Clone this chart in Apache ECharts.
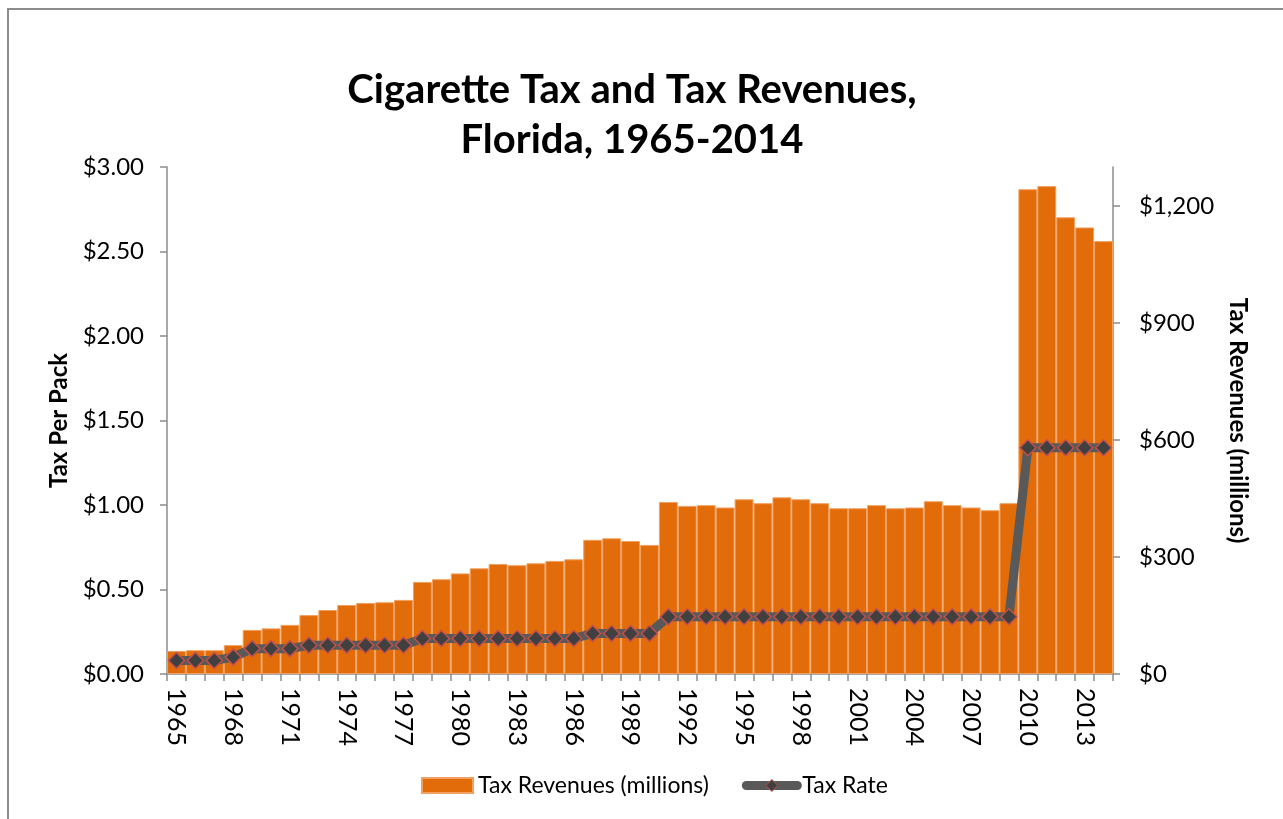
<!DOCTYPE html>
<html>
<head>
<meta charset="utf-8">
<title>Cigarette Tax and Tax Revenues, Florida, 1965-2014</title>
<script src="https://cdn.jsdelivr.net/npm/echarts@6/dist/echarts.min.js"></script>
<style>
  html, body { margin: 0; padding: 0; background: #fff; }
  #chart { width: 1283px; height: 819px; }
</style>
</head>
<body>
<div id="chart"></div>
<script>
// Fiscal years 1965-2014
const years = [];
for (let y = 1965; y <= 2014; y++) years.push(String(y));

// Cigarette tax revenues, millions of dollars
const revenues = [
  59, 61, 61, 74, 113, 117, 126, 151, 164, 177,
  182, 184, 190, 236, 243, 258, 271, 282, 279, 284,
  290, 294, 344, 348, 341, 331, 441, 431, 433, 427,
  448, 438, 453, 448, 438, 425, 425, 433, 425, 427,
  443, 433, 427, 420, 438, 1243, 1251, 1171, 1145, 1110
];

// State cigarette tax per pack, dollars
const taxRate = [
  0.08, 0.08, 0.08, 0.10, 0.15, 0.15, 0.15, 0.17, 0.17, 0.17,
  0.17, 0.17, 0.17, 0.21, 0.21, 0.21, 0.21, 0.21, 0.21, 0.21,
  0.21, 0.21, 0.24, 0.24, 0.24, 0.24, 0.339, 0.339, 0.339, 0.339,
  0.339, 0.339, 0.339, 0.339, 0.339, 0.339, 0.339, 0.339, 0.339, 0.339,
  0.339, 0.339, 0.339, 0.339, 0.339, 1.339, 1.339, 1.339, 1.339, 1.339
];

const leftTicks = [0, 0.5, 1, 1.5, 2, 2.5, 3];
const rightTicks = [0, 300, 600, 900, 1200];

const FONT = 'Lato, "Open Sans", sans-serif';
const axisGray = '#8c8c8c';

const chart = echarts.init(document.getElementById('chart'));
chart.setOption({
  backgroundColor: '#ffffff',
  animation: false,
  textStyle: { fontFamily: FONT },
  graphic: [{
    type: 'rect',
    shape: { x: 8, y: 9, width: 1400, height: 1000 },
    style: { fill: 'none', stroke: '#8c8c8c', lineWidth: 2 },
    silent: true
  }],
  title: {
    text: 'Cigarette Tax and Tax Revenues,\nFlorida, 1965-2014',
    left: 627,
    top: 60,
    textAlign: 'center',
    textStyle: {
      fontFamily: FONT,
      fontSize: 40,
      fontWeight: 'bold',
      color: '#000',
      lineHeight: 50
    }
  },
  legend: {
    left: 416,
    top: 769,
    itemWidth: 51,
    itemHeight: 15,
    itemGap: 33,
    textStyle: { fontFamily: FONT, fontSize: 23, color: '#000' },
    data: [
      { name: 'Tax Revenues (millions)', icon: 'rect' },
      {
        name: 'Tax Rate',
        lineStyle: { width: 9, color: '#595959', cap: 'round' },
        itemStyle: { color: '#404040', borderColor: '#C0504D', borderWidth: 1 }
      }
    ]
  },
  grid: { left: 167, right: 170, top: 167, bottom: 145, containLabel: false },
  xAxis: {
    type: 'category',
    data: years,
    boundaryGap: true,
    axisLine: { lineStyle: { color: axisGray, width: 1.5 } },
    axisTick: { show: true, interval: 0, length: 7, lineStyle: { color: axisGray, width: 1.5 } },
    axisLabel: {
      interval: 2,
      rotate: -90,
      fontFamily: FONT,
      fontSize: 25,
      color: '#000',
      margin: 14
    }
  },
  yAxis: [
    {
      type: 'value',
      min: 0,
      max: 3,
      interval: 0.5,
      position: 'left',
      name: 'Tax Per Pack',
      nameLocation: 'middle',
      nameGap: 96,
      nameRotate: 90,
      nameTextStyle: { fontFamily: FONT, fontSize: 24, fontWeight: 'bold', color: '#000' },
      axisLine: { show: true, lineStyle: { color: axisGray, width: 1.5 } },
      axisTick: { show: true, length: 7, customValues: leftTicks, lineStyle: { color: axisGray, width: 1.5 } },
      splitLine: { show: false },
      axisLabel: {
        customValues: leftTicks,
        fontFamily: FONT,
        fontSize: 24,
        color: '#000',
        margin: 23,
        formatter: v => '$' + v.toFixed(2)
      }
    },
    {
      type: 'value',
      min: 0,
      max: 1300,
      interval: 300,
      position: 'right',
      name: 'Tax Revenues (millions)',
      nameLocation: 'middle',
      nameGap: 113,
      nameRotate: -90,
      nameTextStyle: { fontFamily: FONT, fontSize: 24, fontWeight: 'bold', color: '#000' },
      axisLine: { show: true, lineStyle: { color: axisGray, width: 1.5 } },
      axisTick: { show: true, length: 7, customValues: rightTicks, lineStyle: { color: axisGray, width: 1.5 } },
      splitLine: { show: false },
      axisLabel: {
        customValues: rightTicks,
        fontFamily: FONT,
        fontSize: 24,
        color: '#000',
        margin: 26,
        formatter: v => '$' + v.toLocaleString('en-US')
      }
    }
  ],
  series: [
    {
      name: 'Tax Revenues (millions)',
      type: 'bar',
      yAxisIndex: 1,
      data: revenues,
      barCategoryGap: '0%',
      itemStyle: { color: '#E36C0A', borderColor: '#F0A060', borderWidth: 1 }
    },
    {
      name: 'Tax Rate',
      type: 'line',
      yAxisIndex: 0,
      data: taxRate,
      symbol: 'diamond',
      symbolSize: 16,
      showAllSymbol: true,
      lineStyle: { color: '#595959', width: 9 },
      itemStyle: { color: '#404040', borderColor: '#C0504D', borderWidth: 1.5 },
      z: 3
    }
  ]
});
</script>
</body>
</html>
